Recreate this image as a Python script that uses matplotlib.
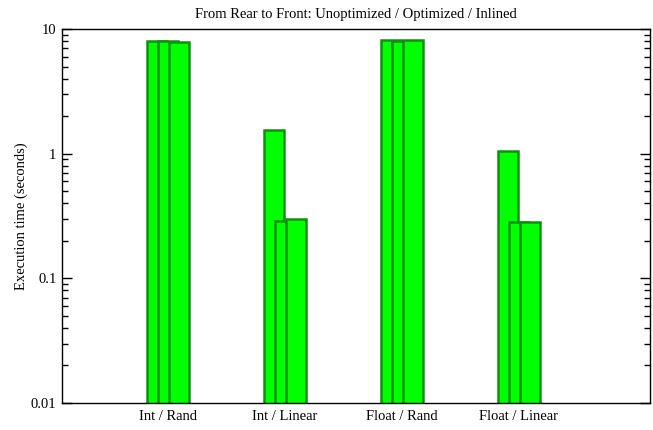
import matplotlib
matplotlib.use("Agg")
import matplotlib.pyplot as plt
import numpy as np

categories = ["Int / Rand", "Int / Linear", "Float / Rand", "Float / Linear"]
unoptimized = [8.0, 1.55, 8.2, 1.05]
optimized = [7.95, 0.29, 8.0, 0.28]
inlined = [7.9, 0.30, 8.1, 0.28]

plt.rcParams['font.family'] = ['Liberation Serif', 'DejaVu Serif']
plt.rcParams['font.size'] = 10.5

fig = plt.figure(figsize=(6.53, 4.30), dpi=100)
ax = fig.add_axes([62/653, 1-403/430, (650-62)/653, (403-29)/430])

x = np.arange(len(categories))
w = 0.17
off = 0.097
fc = '#00ff00'
ec = '#109010'
for series, dx in ((unoptimized, -off), (optimized, 0.0), (inlined, off)):
    ax.bar(x + dx, series, width=w, bottom=0.001, color=fc, edgecolor=ec, linewidth=1.8, zorder=2)

ax.set_yscale('log')
ax.set_ylim(0.01, 10)
ax.set_xlim(-0.906, 4.12)
ax.set_xticks(x)
ax.set_xticklabels(categories)
ax.set_yticks([0.01, 0.1, 1, 10])
ax.set_yticklabels(['0.01', '0.1', '1', '10'])
ax.tick_params(axis='x', length=0, pad=5)
ax.tick_params(axis='y', which='major', direction='in', length=7, left=True, right=True, width=1, pad=4)
ax.tick_params(axis='y', which='minor', direction='in', length=4, left=True, right=True, width=1)
ax.set_ylabel('Execution time (seconds)', labelpad=2)
ax.set_title('From Rear to Front: Unoptimized / Optimized / Inlined', fontsize=10.5, pad=8)
for s in ax.spines.values():
    s.set_linewidth(1)

fig.savefig('out.png', dpi=100)
